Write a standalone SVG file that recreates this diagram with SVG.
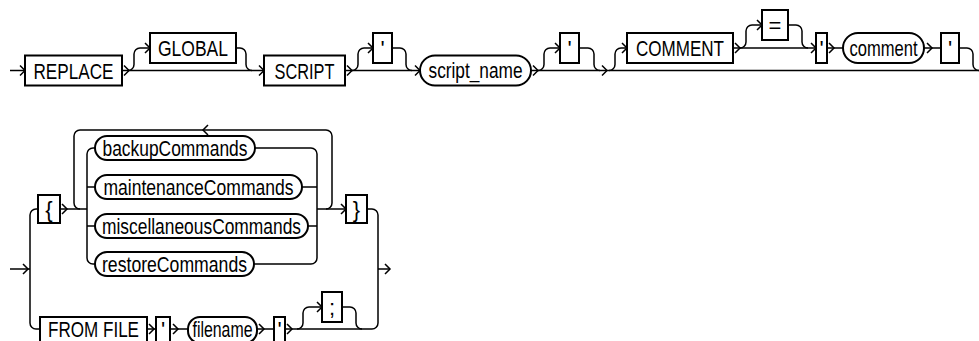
<svg xmlns="http://www.w3.org/2000/svg" xmlns:xlink="http://www.w3.org/1999/xlink" width="979" height="341" viewBox="0 0 979 341">
<defs>
<style>
.box{fill:#fff;stroke:#000;stroke-width:2}
.ln{fill:none;stroke:#000;stroke-width:1.5}
.t{font-family:"Liberation Sans",Arial,sans-serif;font-size:22px;fill:#000;text-anchor:middle}
</style>
<path id="chev" class="ln" d="M-5,-5 L0,0 L-5,5"/>
<path id="chevL" class="ln" d="M5,-5 L0,0 L5,5"/>
</defs>
<rect width="979" height="341" fill="#fff"/>
<g id="connectors">
<path class="ln" d="M10,70.5 H25"/>
<path class="ln" d="M122,70.5 H264"/>
<path class="ln" d="M128,70.5 A6,6 0 0 0 134,64.5 V54 A6,6 0 0 1 140,48 H150"/>
<path class="ln" d="M236,48 H240 A6,6 0 0 1 246,54 V64.5 A6,6 0 0 0 252,70.5"/>
<path class="ln" d="M345,70.5 H420"/>
<path class="ln" d="M352,70.5 A6,6 0 0 0 358,64.5 V54 A6,6 0 0 1 364,48 H373"/>
<path class="ln" d="M392,48 H400 A6,6 0 0 1 406,54 V64.5 A6,6 0 0 0 412,70.5"/>
<path class="ln" d="M531,70.5 H979"/>
<path class="ln" d="M538,70.5 A6,6 0 0 0 544,64.5 V54 A6,6 0 0 1 550,48 H560"/>
<path class="ln" d="M579,48 H588 A6,6 0 0 1 594,54 V64.5 A6,6 0 0 0 600,70.5"/>
<path class="ln" d="M609,70.5 A6,6 0 0 0 615,64.5 V54 A6,6 0 0 1 621,48 H627"/>
<path class="ln" d="M733,48 H816"/>
<path class="ln" d="M740,48 A6,6 0 0 0 746,42 V31 A6,6 0 0 1 752,25 H762"/>
<path class="ln" d="M788,25 H796 A6,6 0 0 1 802,31 V42 A6,6 0 0 0 808,48"/>
<path class="ln" d="M827,48 H843"/>
<path class="ln" d="M924,48 H941"/>
<path class="ln" d="M959,48 H967 A6,6 0 0 1 973,54 V64.5 A6,6 0 0 0 979,70.5"/>
<use xlink:href="#chev" x="25" y="70.5"/>
<use xlink:href="#chev" x="129" y="70.5"/>
<use xlink:href="#chev" x="150" y="48"/>
<use xlink:href="#chev" x="264" y="70.5"/>
<use xlink:href="#chev" x="352" y="70.5"/>
<use xlink:href="#chev" x="373" y="48"/>
<use xlink:href="#chev" x="420" y="70.5"/>
<use xlink:href="#chev" x="538" y="70.5"/>
<use xlink:href="#chev" x="560" y="48"/>
<use xlink:href="#chev" x="607" y="70.5"/>
<use xlink:href="#chev" x="627" y="48"/>
<use xlink:href="#chev" x="740" y="48"/>
<use xlink:href="#chev" x="762" y="25"/>
<use xlink:href="#chev" x="816" y="48"/>
<use xlink:href="#chev" x="834" y="48"/>
<use xlink:href="#chev" x="932" y="48"/>
<path class="ln" d="M10,269 H30"/>
<path class="ln" d="M38,209 H36 A6,6 0 0 0 30,215 V323 A6,6 0 0 0 36,329 H40"/>
<path class="ln" d="M60,209 H87"/>
<path class="ln" d="M326,209 A6,6 0 0 0 332,203 V136 A6,6 0 0 0 326,130 H80 A6,6 0 0 0 74,136 V203 A6,6 0 0 0 80,209"/>
<path class="ln" d="M87,209 V154 A6,6 0 0 1 93,148 H95"/>
<path class="ln" d="M87,209 V258 A6,6 0 0 0 93,264 H95"/>
<path class="ln" d="M87,187 H95 M87,226 H95"/>
<path class="ln" d="M255,148 H311 A6,6 0 0 1 317,154 V258 A6,6 0 0 1 311,264 H254"/>
<path class="ln" d="M302,187 H317 M308,226 H317"/>
<path class="ln" d="M317,209 H346"/>
<path class="ln" d="M367,209 H372 A6,6 0 0 1 378,215 V323 A6,6 0 0 1 372,329 H285"/>
<path class="ln" d="M378,269 H390"/>
<path class="ln" d="M147,329 H156 M170,329 H188 M257,329 H274"/>
<path class="ln" d="M297,329 A6,6 0 0 0 303,323 V313 A6,6 0 0 1 309,307 H322"/>
<path class="ln" d="M342,307 H350 A6,6 0 0 1 356,313 V323 A6,6 0 0 0 362,329"/>
<use xlink:href="#chev" x="28" y="269"/>
<use xlink:href="#chev" x="67" y="209"/>
<use xlink:href="#chevL" x="203" y="130"/>
<use xlink:href="#chev" x="346" y="209"/>
<use xlink:href="#chev" x="390" y="269"/>
<use xlink:href="#chev" x="154" y="329"/>
<use xlink:href="#chev" x="178" y="329"/>
<use xlink:href="#chev" x="264" y="329"/>
<use xlink:href="#chev" x="292" y="329"/>
<use xlink:href="#chev" x="322" y="307"/>
</g>
<g id="n_replace"><rect class="box" x="25" y="55.5" width="97" height="30"/><text class="t" x="73.5" y="78.5" textLength="80" lengthAdjust="spacingAndGlyphs">REPLACE</text></g>
<g id="n_global"><rect class="box" x="150" y="33" width="86" height="30"/><text class="t" x="193" y="56" textLength="70" lengthAdjust="spacingAndGlyphs">GLOBAL</text></g>
<g id="n_script"><rect class="box" x="264" y="55.5" width="81" height="30"/><text class="t" x="304.5" y="78.5" textLength="60" lengthAdjust="spacingAndGlyphs">SCRIPT</text></g>
<g id="n_q1"><rect class="box" x="373" y="33" width="19" height="30"/><text class="t" x="382.5" y="56">'</text></g>
<g id="n_script_name"><rect class="box" x="420" y="55.5" width="111" height="30" rx="15"/><text class="t" x="475.5" y="78" textLength="94" lengthAdjust="spacingAndGlyphs">script_name</text></g>
<g id="n_q2"><rect class="box" x="560" y="33" width="19" height="30"/><text class="t" x="569.5" y="56">'</text></g>
<g id="n_comment_kw"><rect class="box" x="627" y="33" width="106" height="30"/><text class="t" x="680" y="56" textLength="88" lengthAdjust="spacingAndGlyphs">COMMENT</text></g>
<g id="n_eq"><rect class="box" x="762" y="10" width="26" height="30"/><text class="t" x="775" y="33">=</text></g>
<g id="n_q3"><rect class="box" x="816" y="33" width="11" height="30"/><text class="t" x="821.5" y="56">'</text></g>
<g id="n_comment"><rect class="box" x="843" y="33" width="81" height="30" rx="15"/><text class="t" x="883.5" y="55.5" textLength="68" lengthAdjust="spacingAndGlyphs">comment</text></g>
<g id="n_q4"><rect class="box" x="941" y="33" width="18" height="30"/><text class="t" x="950" y="56">'</text></g>
<g id="n_lbrace"><rect class="box" x="38" y="195" width="22" height="28"/><text class="t" x="49" y="217">{</text></g>
<g id="n_backup"><rect class="box" x="95" y="136" width="160" height="24" rx="12"/><text class="t" x="175" y="155.5" textLength="145" lengthAdjust="spacingAndGlyphs">backupCommands</text></g>
<g id="n_maint"><rect class="box" x="95" y="175" width="207" height="24" rx="12"/><text class="t" x="198.5" y="194.5" textLength="190" lengthAdjust="spacingAndGlyphs">maintenanceCommands</text></g>
<g id="n_misc"><rect class="box" x="95" y="214" width="213" height="24" rx="12"/><text class="t" x="201.5" y="233.5" textLength="199" lengthAdjust="spacingAndGlyphs">miscellaneousCommands</text></g>
<g id="n_restore"><rect class="box" x="95" y="252" width="159" height="24" rx="12"/><text class="t" x="174.5" y="271.5" textLength="145" lengthAdjust="spacingAndGlyphs">restoreCommands</text></g>
<g id="n_rbrace"><rect class="box" x="346" y="195" width="21" height="28"/><text class="t" x="356.5" y="217">}</text></g>
<g id="n_fromfile"><rect class="box" x="40" y="317" width="107" height="26"/><text class="t" x="93.5" y="337" textLength="91" lengthAdjust="spacingAndGlyphs">FROM FILE</text></g>
<g id="n_q5"><rect class="box" x="156" y="317" width="14" height="26"/><text class="t" x="163" y="337">'</text></g>
<g id="n_filename"><rect class="box" x="188" y="317" width="69" height="26" rx="12"/><text class="t" x="222.5" y="337" textLength="60" lengthAdjust="spacingAndGlyphs">filename</text></g>
<g id="n_q6"><rect class="box" x="274" y="317" width="11" height="26"/><text class="t" x="279.5" y="337">'</text></g>
<g id="n_semi"><rect class="box" x="322" y="292" width="20" height="30"/><text class="t" x="332" y="315">;</text></g>
</svg>
